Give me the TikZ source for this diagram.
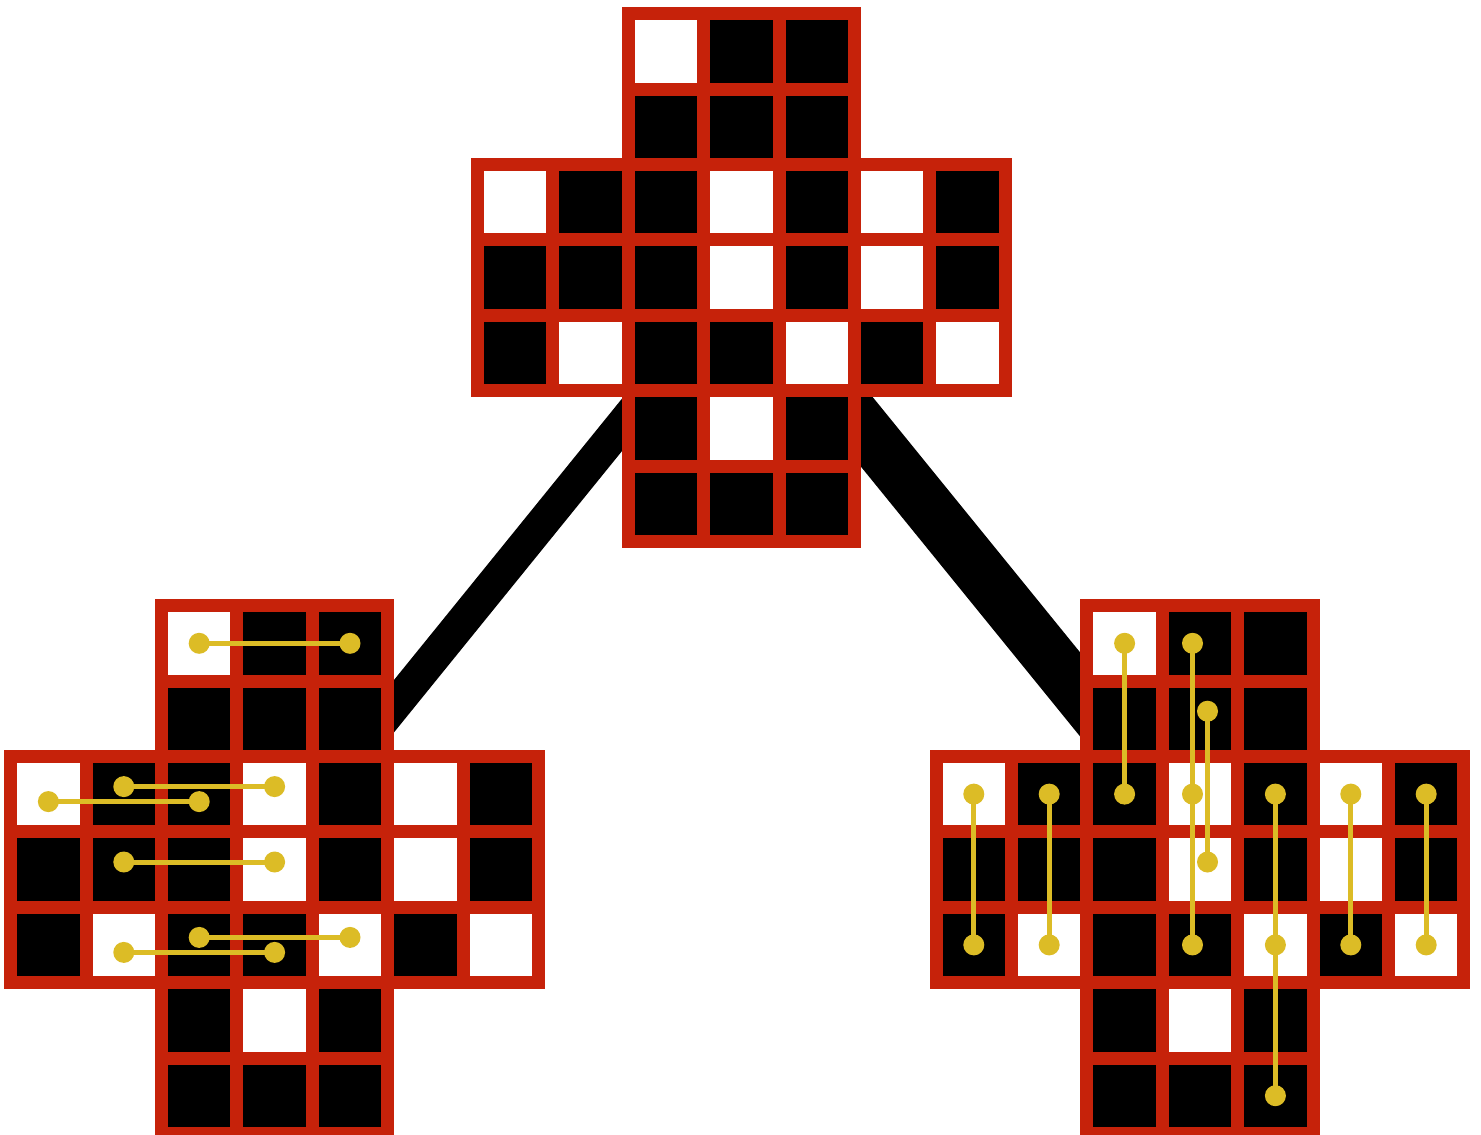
\documentclass[tikz,border=0pt]{standalone}
\usetikzlibrary{calc,backgrounds}
\definecolor{gridred}{RGB}{198,34,10}
\definecolor{dotyellow}{RGB}{220,188,38}
\begin{document}
\begin{tikzpicture}[x=1pt,y=-1pt,
  cell/.style={rectangle,minimum size=75.4pt,inner sep=0pt,outer sep=0pt,draw=gridred,line width=13pt},
  dot/.style={circle,fill=dotyellow,minimum size=21pt,inner sep=0pt,outer sep=0pt},
  yline/.style={draw=dotyellow,line width=5pt},
  link/.style={draw=black}]
\useasboundingbox (0,0) rectangle (1481,1135);
\def\cs{75.4}
% three crosses of cells
\foreach \cr/\ox/\oy in {T/477.5/13.6, L/10.7/605.6, R/936.1/605.6}{
  \foreach \i/\j/\f in {2/0/white,3/0/black,4/0/black,
                        2/1/black,3/1/black,4/1/black,
                        0/2/white,1/2/black,2/2/black,3/2/white,4/2/black,5/2/white,6/2/black,
                        0/3/black,1/3/black,2/3/black,3/3/white,4/3/black,5/3/white,6/3/black,
                        0/4/black,1/4/white,2/4/black,3/4/black,4/4/white,5/4/black,6/4/white,
                        2/5/black,3/5/white,4/5/black,
                        2/6/black,3/6/black,4/6/black}{
    \node[cell,fill=\f] (\cr-\i-\j) at ({\ox+(\i+0.5)*\cs},{\oy+(\j+0.5)*\cs}) {};
  }
}
% thick black links behind the crosses
\begin{pgfonlayer}{background}
  \coordinate (lend) at ($(L-3-3.center)+(0,-16)$);
  \coordinate (rend) at ($(R-3-3.center)+(0,-27.5)$);
  \draw[link,line width=33pt] (T-3-3.center) -- (lend);
  \draw[link,line width=53pt] (T-3-3.center) -- (rend);
\end{pgfonlayer}
% left cross: horizontal swaps
\node[dot] (la1) at (L-2-0) {};
\node[dot] (la2) at (L-4-0) {};
\node[dot] (lb1) at ($(L-1-2)+(0,-7.5)$) {};
\node[dot] (lb2) at ($(L-3-2)+(0,-7.5)$) {};
\node[dot] (lc1) at ($(L-0-2)+(0,7.5)$) {};
\node[dot] (lc2) at ($(L-2-2)+(0,7.5)$) {};
\node[dot] (ld1) at ($(L-1-3)+(0,-7.5)$) {};
\node[dot] (ld2) at ($(L-3-3)+(0,-7.5)$) {};
\node[dot] (le1) at ($(L-2-4)+(0,-7.5)$) {};
\node[dot] (le2) at ($(L-4-4)+(0,-7.5)$) {};
\node[dot] (lf1) at ($(L-1-4)+(0,7.5)$) {};
\node[dot] (lf2) at ($(L-3-4)+(0,7.5)$) {};
\foreach \a in {la,lb,lc,ld,le,lf}{
  \draw[yline] (\a1.center) -- (\a2.center);
}
% right cross: vertical swaps
\node[dot] (ra1) at (R-0-2) {};
\node[dot] (ra2) at (R-0-4) {};
\node[dot] (rb1) at (R-1-2) {};
\node[dot] (rb2) at (R-1-4) {};
\node[dot] (rc1) at (R-2-0) {};
\node[dot] (rc2) at (R-2-2) {};
\node[dot] (rd1) at ($(R-3-0)+(-7.5,0)$) {};
\node[dot] (rd2) at ($(R-3-2)+(-7.5,0)$) {};
\node[dot] (rd3) at ($(R-3-4)+(-7.5,0)$) {};
\node[dot] (re1) at ($(R-3-1)+(7.5,-7.5)$) {};
\node[dot] (re2) at ($(R-3-3)+(7.5,-7.5)$) {};
\node[dot] (rf1) at (R-4-2) {};
\node[dot] (rf2) at (R-4-4) {};
\node[dot] (rf3) at (R-4-6) {};
\node[dot] (rg1) at (R-5-2) {};
\node[dot] (rg2) at (R-5-4) {};
\node[dot] (rh1) at (R-6-2) {};
\node[dot] (rh2) at (R-6-4) {};
\foreach \a in {ra,rb,rc,rd,re,rf,rg,rh}{
  \draw[yline] (\a1.center) -- (\a2.center);
}
\draw[yline] (rd2.center) -- (rd3.center);
\draw[yline] (rf2.center) -- (rf3.center);
\end{tikzpicture}
\end{document}
